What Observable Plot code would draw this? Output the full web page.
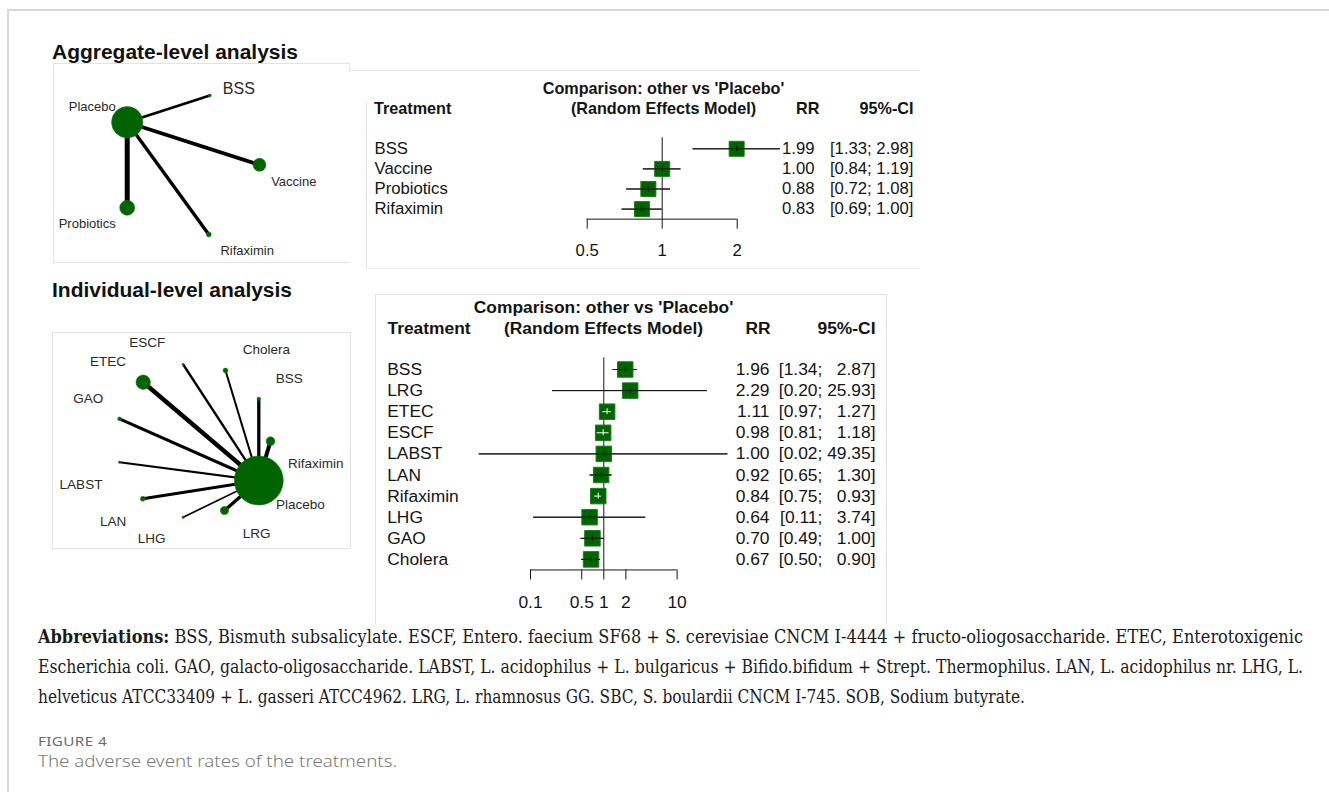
<!DOCTYPE html>
<html><head><meta charset="utf-8">
<script src="https://cdn.jsdelivr.net/npm/d3@7"></script>
<script src="https://cdn.jsdelivr.net/npm/@observablehq/plot@0.6"></script>
<style>
body{margin:0;background:#fff;}
#page{position:relative;width:1329px;height:792px;overflow:hidden;font-family:"Liberation Sans",Arial,sans-serif;background:#fff;}
.hl{position:absolute;background:#e2e2e2;}
.fit{position:absolute;white-space:nowrap;line-height:1;transform-origin:0 0;display:inline-block;}
.title{font-weight:bold;font-size:20px;color:#111;}
.cap{font-family:"DejaVu Serif","Liberation Serif",serif;font-size:18px;color:#1b1b1b;}
.fig{font-family:"Noto Sans","Open Sans",sans-serif;font-size:13px;color:#6a6a6a;letter-spacing:.3px;}
.sub{font-family:"Noto Sans","Open Sans",sans-serif;font-size:17px;color:#7a7a7a;font-weight:300;}
svg text{white-space:pre;}
</style></head><body><div id="page"></div>
<script>
// ---------------- data ----------------
// Aggregate-level forest plot (RR vs Placebo)
const aggTreatments = ["BSS", "Vaccine", "Probiotics", "Rifaximin"];
const aggRR    = [1.99, 1.00, 0.88, 0.83];
const aggLower = [1.33, 0.84, 0.72, 0.69];
const aggUpper = [2.98, 1.19, 1.08, 1.00];
const aggTicks = [0.5, 1, 2];

// Individual-level forest plot
const indTreatments = ["BSS", "LRG", "ETEC", "ESCF", "LABST", "LAN", "Rifaximin", "LHG", "GAO", "Cholera"];
const indRR    = [1.96, 2.29, 1.11, 0.98, 1.00, 0.92, 0.84, 0.64, 0.70, 0.67];
const indLower = [1.34, 0.20, 0.97, 0.81, 0.02, 0.65, 0.75, 0.11, 0.49, 0.50];
const indUpper = [2.87, 25.93, 1.27, 1.18, 49.35, 1.30, 0.93, 3.74, 1.00, 0.90];
const indTicks = [0.1, 0.5, 1, 2, 10];

// Aggregate-level network (layout coordinates, node weight, edge weight)
const aggNodes      = ["Placebo", "BSS", "Vaccine", "Probiotics", "Rifaximin"];
const aggNodeX      = [73.7, 156.3, 206.0, 73.7, 155.3];
const aggNodeY      = [58.7, 32.0, 101.3, 144.3, 171.0];
const aggNodeWeight = [245, 2.2, 42, 56, 6];
const aggLabelX     = [38.7, 185.3, 240.3, 33.7, 193.7];
const aggLabelY     = [43.7, 25.3, 118.7, 160.3, 187.0];
const aggEdgeTo     = ["BSS", "Vaccine", "Probiotics", "Rifaximin"];
const aggEdgeWeight = [2.7, 3.8, 5.0, 3.4];

// Individual-level network
const indNodes      = ["Placebo", "Rifaximin", "BSS", "Cholera", "ESCF", "ETEC", "GAO", "LABST", "LAN", "LHG", "LRG"];
const indNodeX      = [206.3, 218.0, 206.3, 173.0, 130.7, 90.7, 67.0, 67.0, 90.3, 130.7, 172.0];
const indNodeY      = [148.0, 108.7, 66.3, 38.0, 32.0, 49.7, 86.3, 129.7, 166.3, 184.7, 178.0];
const indNodeWeight = [600, 19, 3, 6, 1.4, 52, 3.4, 1.2, 6, 1.4, 17];
const indLabelX     = [247.8, 263.3, 236.7, 213.8, 94.7, 55.5, 35.7, 28.5, 60.5, 99.2, 204.2];
const indLabelY     = [172.3, 130.7, 46.3, 17.3, 9.7, 29.0, 65.7, 152.0, 188.7, 206.3, 201.3];
const indEdgeTo     = ["Rifaximin", "BSS", "Cholera", "ESCF", "ETEC", "GAO", "LABST", "LAN", "LHG", "LRG"];
const indEdgeWeight = [4.0, 3.3, 2.0, 2.3, 4.4, 3.0, 2.0, 3.0, 1.7, 3.3];

const abbrevLines = [
  ["Abbreviations:", " BSS, Bismuth subsalicylate. ESCF, Entero. faecium SF68 + S. cerevisiae CNCM I-4444 + fructo-oliogosaccharide. ETEC, Enterotoxigenic"],
  ["", "Escherichia coli. GAO, galacto-oligosaccharide. LABST, L. acidophilus + L. bulgaricus + Bifido.bifidum + Strept. Thermophilus. LAN, L. acidophilus nr. LHG, L."],
  ["", "helveticus ATCC33409 + L. gasseri ATCC4962. LRG, L. rhamnosus GG. SBC, S. boulardii CNCM I-745. SOB, Sodium butyrate."]
];

// ---------------- helpers ----------------
const page = document.getElementById("page");
function place(node, left, top) {
  const w = document.createElement("div");
  w.style.position = "absolute"; w.style.left = left + "px"; w.style.top = top + "px";
  w.appendChild(node); page.appendChild(w); return w;
}
function hline(x, y, w, h, color) {
  const d = document.createElement("div"); d.className = "hl";
  Object.assign(d.style, {left: x + "px", top: y + "px", width: w + "px", height: h + "px"});
  if (color) d.style.background = color;
  page.appendChild(d);
}
const fitters = [];
function fitText(html, cls, left, top, targetW) {
  const s = document.createElement("span"); s.className = "fit " + cls; s.innerHTML = html;
  s.style.left = left + "px"; s.style.top = top + "px"; page.appendChild(s);
  fitters.push(() => { s.style.transform = "none"; const w = s.getBoundingClientRect().width; s.style.transform = `scaleX(${targetW / w})`; });
}

function network(cfg) {
  const {nodes, nx, ny, nw, lx, ly, edgeTo, ew, width, height, fs, bigLabel, bigFs} = cfg;
  const nodeData = nodes.map((name, i) => ({name, x: nx[i], y: ny[i], w: nw[i], lx: lx[i], ly: ly[i]}));
  const pos = new Map(nodeData.map(d => [d.name, d]));
  const hub = pos.get("Placebo");
  const edges = edgeTo.map((t, i) => ({to: pos.get(t), w: ew[i]}));
  return Plot.plot({
    width, height, margin: 0,
    x: {domain: [0, width], range: [0, width], axis: null},
    y: {domain: [0, height], range: [0, height], axis: null},
    r: {type: "sqrt", domain: [0, 100], range: [0, 10]},
    style: {fontFamily: "Liberation Sans, Arial, sans-serif", background: "transparent", overflow: "visible"},
    marks: [
      Plot.link(edges, {x1: () => hub.x, y1: () => hub.y, x2: d => d.to.x, y2: d => d.to.y, stroke: "#000", strokeWidth: "w"}),
      Plot.dot(nodeData, {x: "x", y: "y", r: "w", fill: "#006400", stroke: "#157515", strokeWidth: 0.6}),
      Plot.text(nodeData.filter(d => d.name !== bigLabel), {x: "lx", y: "ly", text: "name", fontSize: fs, fill: "#2a2a2a"}),
      Plot.text(nodeData.filter(d => d.name === bigLabel), {x: "lx", y: "ly", text: "name", fontSize: bigFs, fill: "#2a2a2a"})
    ]
  });
}

function forest(cfg) {
  const {names, rr, lo, hi, ticks, width, height, xDomain, xRange, yFirst, yStep, fs, hfs, nameX, rrX, ciX, hdr, side, tickPadding} = cfg;
  const n = names.length;
  const xs = d3.scaleLog().domain(xDomain).range(xRange);
  const hiLen = d3.max(hi, v => v.toFixed(2).length);
  const rows = names.map((name, i) => {
    const h = hi[i].toFixed(2);
    const inside = xs(lo[i]) >= xs(rr[i]) - side / 2 && xs(hi[i]) <= xs(rr[i]) + side / 2;
    return {i, name, rr: rr[i], lo: lo[i], hi: hi[i], inside,
      rrText: rr[i].toFixed(2),
      ciText: `[${lo[i].toFixed(2)}; ${"\u2007".repeat(hiLen - h.length)}${h}]`};
  });
  const axisY = yFirst + (n - 0.5) * yStep;
  const inRows = rows.filter(d => d.inside), outRows = rows.filter(d => !d.inside);
  const ink = "#141414";
  const head = (txt, dx, dy, anchor) => Plot.text([txt], {frameAnchor: "top-left", lineAnchor: "middle", dx, dy, textAnchor: anchor, fontWeight: "bold", fontSize: hfs, fill: ink});
  return Plot.plot({
    width, height, marginTop: 0, marginLeft: 0, marginRight: 0, marginBottom: height - axisY,
    x: {type: "log", domain: xDomain, range: xRange},
    y: {domain: [0, n - 1], range: [yFirst, yFirst + (n - 1) * yStep], axis: null},
    style: {fontFamily: "Liberation Sans, Arial, sans-serif", fontSize: fs + "px", color: ink, background: "transparent", overflow: "visible"},
    marks: [
      Plot.ruleY([n - 0.5], {x1: () => ticks[0], x2: () => ticks[ticks.length - 1], stroke: ink}),
      Plot.ruleX([1], {y1: () => -0.55, y2: () => n - 0.5, stroke: ink}),
      Plot.axisX({ticks, tickSize: 10, tickPadding, tickFormat: d => String(d), label: null, fontSize: fs, anchor: "bottom"}),
      Plot.ruleY(rows, {y: "i", x1: "lo", x2: "hi", stroke: ink}),
      Plot.dot(rows, {x: "rr", y: "i", symbol: "square", r: side / Math.sqrt(Math.PI), fill: "#006400", stroke: "#1b7d1b", strokeWidth: 1}),
      Plot.ruleY(outRows, {y: "i", x1: "lo", x2: "hi", stroke: ink}),
      Plot.ruleY(inRows, {y: "i", x1: "lo", x2: "hi", stroke: "#fff"}),
      Plot.ruleX(outRows, {x: "rr", y1: d => d.i - 0.14, y2: d => d.i + 0.14, stroke: ink}),
      Plot.ruleX(inRows, {x: "rr", y1: d => d.i - 0.14, y2: d => d.i + 0.14, stroke: "#fff"}),
      Plot.text(rows, {y: "i", text: "name", frameAnchor: "left", dx: nameX, textAnchor: "start", fontSize: fs, fill: ink}),
      Plot.text(rows, {y: "i", text: "rrText", frameAnchor: "left", dx: rrX, textAnchor: "end", fontSize: fs, fill: ink}),
      Plot.text(rows, {y: "i", text: "ciText", frameAnchor: "left", dx: ciX, textAnchor: "end", fontSize: fs, fill: ink}),
      head("Comparison: other vs 'Placebo'", hdr.midX, hdr.y1, "middle"),
      head("(Random Effects Model)", hdr.midX, hdr.y2, "middle"),
      head("Treatment", hdr.treatX, hdr.y2, "start"),
      head("RR", hdr.rrX, hdr.y2, "end"),
      head("95%-CI", hdr.ciX, hdr.y2, "end")
    ]
  });
}

// ---------------- page frame & panel borders ----------------
hline(7, 9, 1322, 1.5, "#d6d6d6");
hline(7, 9, 1.5, 783, "#d6d6d6");
// aggregate network box
hline(53, 63, 297, 1);
hline(53, 63, 1, 199);
hline(53, 262, 297, 1);
hline(349, 63, 1, 8);
hline(349, 70, 571, 1);
// aggregate forest panel
hline(366, 102, 1, 166);
hline(366, 268, 554, 1, "#ececec");
// individual network box
hline(52, 332, 298, 1);
hline(52, 332, 1, 216);
hline(52, 548, 298, 1);
hline(350, 332, 1, 216);
// individual forest panel
hline(375, 294, 512, 1);
hline(375, 294, 1, 330);
hline(886, 294, 1, 330);

// ---------------- titles ----------------
fitText("Aggregate-level analysis", "title", 52, 42, 246);
fitText("Individual-level analysis", "title", 52, 280, 240);

// ---------------- charts ----------------
place(network({nodes: aggNodes, nx: aggNodeX, ny: aggNodeY, nw: aggNodeWeight, lx: aggLabelX, ly: aggLabelY,
  edgeTo: aggEdgeTo, ew: aggEdgeWeight, width: 297, height: 199, fs: 13, bigLabel: "BSS", bigFs: 16}), 53, 63);

place(network({nodes: indNodes, nx: indNodeX, ny: indNodeY, nw: indNodeWeight, lx: indLabelX, ly: indLabelY,
  edgeTo: indEdgeTo, ew: indEdgeWeight, width: 298, height: 216, fs: 13.5, bigLabel: null, bigFs: 13.5}), 52, 332);

place(forest({names: aggTreatments, rr: aggRR, lo: aggLower, hi: aggUpper, ticks: aggTicks,
  width: 553, height: 200, xDomain: [0.5, 2], xRange: [219.7, 369.7], yFirst: 78.3, yStep: 20.1,
  fs: 16.7, hfs: 16.2, nameX: 7, rrX: 447, ciX: 546, side: 15, tickPadding: 15,
  hdr: {midX: 296, y1: 18.6, y2: 38.8, treatX: 6.5, rrX: 452, ciX: 546}}), 367, 70);

place(forest({names: indTreatments, rr: indRR, lo: indLower, hi: indUpper, ticks: indTicks,
  width: 512, height: 330, xDomain: [0.1, 10], xRange: [155, 301.6], yFirst: 76, yStep: 21.1,
  fs: 17.4, hfs: 17.4, nameX: 11.7, rrX: 394, ciX: 500, side: 15.5, tickPadding: 16,
  hdr: {midX: 228, y1: 13.7, y2: 34.7, treatX: 12, rrX: 395, ciX: 500}}), 375, 293);

// ---------------- caption ----------------
const capTargets = [1265, 1265, 987];
abbrevLines.forEach(([b, t], i) => {
  const esc = s => s.replace(/&/g, "&amp;").replace(/</g, "&lt;");
  fitText((b ? `<b>${esc(b)}</b>` : "") + esc(t), "cap", 38, 628 + i * 30, capTargets[i]);
});
fitText("FIGURE 4", "fig", 38, 735, 69);
fitText("The adverse event rates of the treatments.", "sub", 38, 752, 359);

function runFit() { fitters.forEach(f => f()); }
runFit();
if (document.fonts && document.fonts.ready) document.fonts.ready.then(runFit);
</script></body></html>
